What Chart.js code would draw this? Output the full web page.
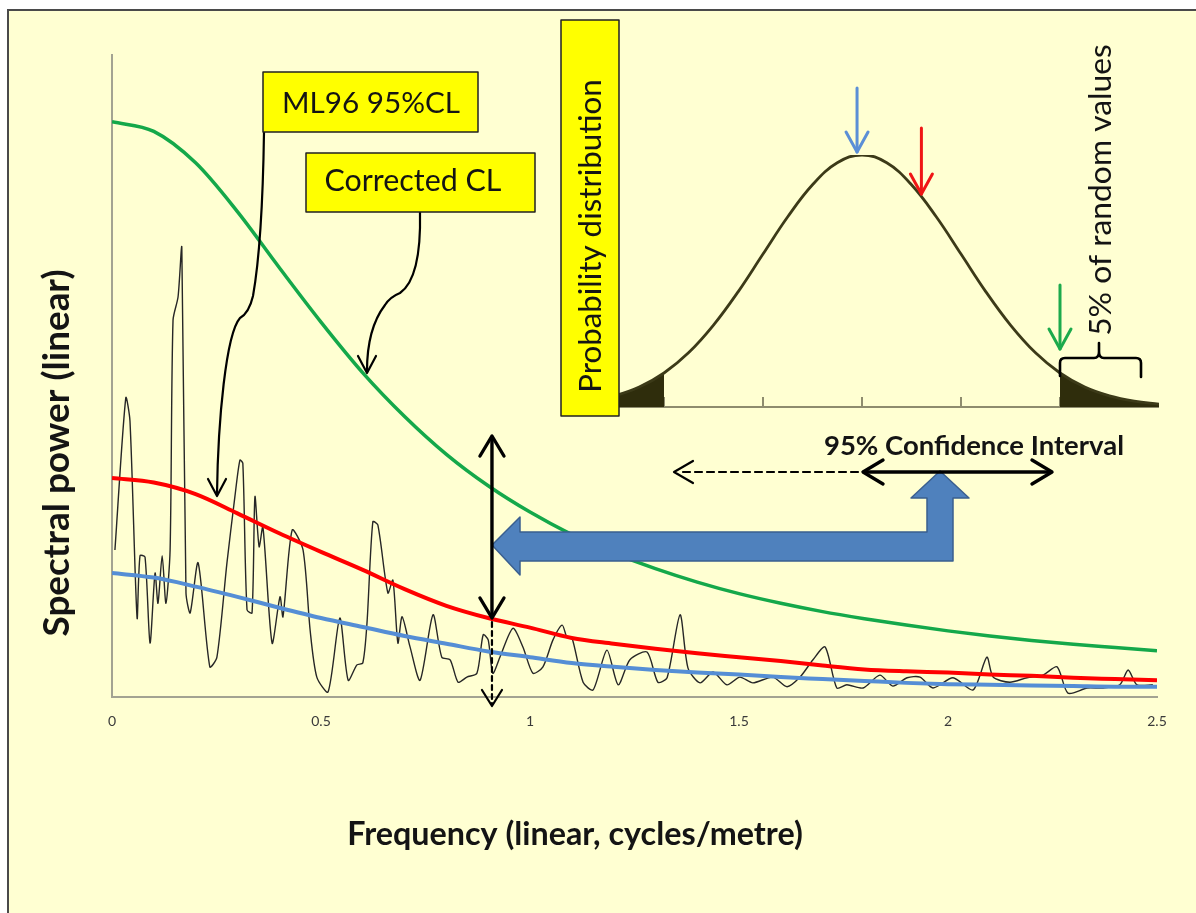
<!DOCTYPE html>
<html>
<head>
<meta charset="utf-8">
<script src="https://cdn.jsdelivr.net/npm/chart.js@4.4.1/dist/chart.umd.min.js"></script>
<style>
html, body { margin: 0; padding: 0; background: #fff; overflow: hidden; }
#frame { position: absolute; left: 7px; top: 9px; width: 1300px; height: 1000px; border: 2px solid #4a4a4a; background: #FFFFD2; }
#main { position: absolute; left: 0; top: 0; }
#inset { position: absolute; left: 545px; top: 10px; }
</style>
</head>
<body>
<div id="frame"></div>
<canvas id="main" width="1196" height="913"></canvas>
<canvas id="inset" width="640" height="430"></canvas>
<script>
// ---- data ----
// noisy spectrum (frequency, power)
const specFreq = [0.007, 0.033, 0.043, 0.060, 0.067, 0.079, 0.091, 0.103, 0.110, 0.120, 0.129, 0.139, 0.146, 0.158, 0.167,
  0.177, 0.187, 0.206, 0.234, 0.251, 0.275, 0.294, 0.306, 0.313, 0.323, 0.335, 0.342, 0.352, 0.361, 0.383, 0.402, 0.409,
  0.431, 0.457, 0.474, 0.490, 0.517, 0.545, 0.565, 0.586, 0.600, 0.610, 0.624, 0.636, 0.660, 0.672, 0.684, 0.694, 0.713,
  0.737, 0.768, 0.789, 0.809, 0.828, 0.849, 0.873, 0.888, 0.900, 0.911, 0.928, 0.959, 0.983, 1.007, 1.031, 1.055, 1.077,
  1.089, 1.100, 1.127, 1.151, 1.184, 1.211, 1.239, 1.280, 1.306, 1.328, 1.359, 1.378, 1.407, 1.438, 1.471, 1.502, 1.533,
  1.581, 1.615, 1.646, 1.677, 1.706, 1.734, 1.758, 1.797, 1.837, 1.868, 1.902, 1.933, 1.964, 2.012, 2.060, 2.093, 2.108,
  2.148, 2.189, 2.227, 2.261, 2.287, 2.333, 2.371, 2.411, 2.431, 2.452, 2.490];
const specPower = [22.9, 46.6, 43.0, 12.3, 22.0, 21.8, 8.4, 19.3, 14.6, 22.0, 14.6, 22.9, 58.7, 62.3, 70.0,
  16.2, 13.1, 20.9, 4.7, 6.2, 20.9, 31.2, 36.9, 36.4, 13.6, 13.1, 31.2, 23.4, 26.5, 8.4, 15.6, 12.5,
  26.0, 22.9, 10.4, 3.1, 0.8, 12.3, 2.6, 5.0, 5.3, 11.5, 27.3, 26.8, 16.2, 18.2, 8.4, 12.5, 7.8,
  2.6, 12.8, 6.2, 5.8, 2.3, 3.1, 3.7, 9.7, 8.9, 3.7, 6.2, 10.7, 7.8, 3.7, 4.7, 8.9, 11.2,
  9.2, 9.3, 2.3, 1.1, 7.3, 1.9, 5.8, 7.0, 2.3, 3.0, 12.8, 4.5, 2.2, 3.9, 1.9, 3.1, 2.2,
  3.1, 1.6, 3.1, 5.8, 7.8, 1.4, 1.9, 1.4, 3.4, 1.7, 3.0, 3.1, 1.4, 3.0, 1.1, 6.2, 3.1,
  2.3, 3.0, 3.4, 4.7, 0.6, 1.4, 1.4, 1.9, 4.2, 1.9, 1.9];

// smooth confidence curves
const clFreq = [0, 0.1, 0.2, 0.3, 0.4, 0.5, 0.6, 0.7, 0.8, 0.9, 1.0, 1.1, 1.2, 1.3, 1.4, 1.5, 1.6, 1.7, 1.8, 1.9, 2.0, 2.1, 2.2, 2.3, 2.4, 2.5];
const meanPower = [19.3, 18.6, 17.2, 15.6, 13.9, 12.3, 10.9, 9.5, 8.3, 7.1, 6.2, 5.3, 4.7, 4.2, 3.8, 3.5, 3.1, 2.8, 2.5, 2.2, 2.0, 1.9, 1.8, 1.7, 1.6, 1.6];
const ml96Power = [34.1, 33.4, 31.6, 28.6, 25.5, 22.6, 19.8, 16.8, 14.2, 12.3, 10.8, 9.2, 8.3, 7.5, 6.8, 6.2, 5.6, 4.9, 4.3, 4.0, 3.8, 3.5, 3.3, 3.0, 2.8, 2.6];
const correctedPower = [89.6, 88.1, 83.2, 75.6, 66.9, 58.4, 50.5, 43.7, 37.8, 32.9, 28.8, 25.3, 22.4, 20.0, 17.9, 16.1, 14.6, 13.3, 12.2, 11.2, 10.3, 9.5, 8.8, 8.2, 7.7, 7.2];

const xTickLabels = ['0', '0.5', '1', '1.5', '2', '2.5'];

// inset probability distribution (in sigma units)
const bellSigma = [-3, -2.75, -2.5, -2.25, -2, -1.75, -1.5, -1.25, -1, -0.75, -0.5, -0.25, 0, 0.25, 0.5, 0.75, 1, 1.25, 1.5, 1.75, 2, 2.25, 2.5, 2.75, 3];
const bellDensity = [1.1, 2.3, 4.4, 7.9, 13.5, 21.6, 32.5, 45.8, 60.7, 75.5, 88.2, 96.9, 100, 96.9, 88.2, 75.5, 60.7, 45.8, 32.5, 21.6, 13.5, 7.9, 4.4, 2.3, 1.1];
const bellTicks = [-2, -1, 0, 1, 2];

const FONT = 'Lato, "Open Sans", sans-serif';

function pts(xs, ys) {
    return xs.map((x, i) => ({ x: x, y: ys[i] }));
}

// font size chosen so text fills a given width
function fitFont(ctx, text, weight, width) {
    ctx.font = weight + ' 100px ' + FONT;
    const w = ctx.measureText(text).width;
    ctx.font = weight + ' ' + (100 * width / w).toFixed(1) + 'px ' + FONT;
}

function chevron(ctx, x, y, ang, len, half) {
    const bx = x - len * Math.cos(ang), by = y - len * Math.sin(ang);
    const px = -Math.sin(ang) * half, py = Math.cos(ang) * half;
    ctx.beginPath();
    ctx.moveTo(bx + px, by + py);
    ctx.lineTo(x, y);
    ctx.lineTo(bx - px, by - py);
    ctx.stroke();
}

function box(ctx, x, y, w, h) {
    ctx.fillStyle = '#FFFF00';
    ctx.fillRect(x, y, w, h);
    ctx.strokeStyle = '#222';
    ctx.lineWidth = 1.5;
    ctx.strokeRect(x, y, w, h);
}

function label(ctx, text, weight, width, cx, cy, rot) {
    ctx.save();
    ctx.translate(cx, cy);
    if (rot) ctx.rotate(rot);
    fitFont(ctx, text, weight, width);
    ctx.fillStyle = '#141414';
    ctx.textAlign = 'center';
    ctx.textBaseline = 'middle';
    ctx.fillText(text, 0, 0);
    ctx.restore();
}

// annotations on the main spectrum chart
const mainNotes = {
    id: 'mainNotes',
    afterDatasetsDraw(chart) {
        const ctx = chart.ctx;
        ctx.save();
        ctx.lineCap = 'round';
        ctx.lineJoin = 'round';

        // big blue block arrow
        const blk = [[492, 545], [520, 517], [520, 532], [927, 532], [927, 498], [911, 498], [940, 471],
            [969, 498], [953, 498], [953, 561], [520, 561], [520, 575]];
        ctx.beginPath();
        blk.forEach((p, i) => i ? ctx.lineTo(p[0], p[1]) : ctx.moveTo(p[0], p[1]));
        ctx.closePath();
        ctx.fillStyle = '#4F81BD';
        ctx.fill();
        ctx.strokeStyle = '#3A5F8F';
        ctx.lineWidth = 1.5;
        ctx.stroke();

        ctx.strokeStyle = '#000';
        // vertical double arrow at the chosen frequency
        const vx = chart.scales.x.getPixelForValue(0.909);
        ctx.lineWidth = 3.4;
        ctx.beginPath(); ctx.moveTo(vx, 437); ctx.lineTo(vx, 617); ctx.stroke();
        chevron(ctx, vx, 436, -Math.PI / 2, 20, 12);
        chevron(ctx, vx, 618, Math.PI / 2, 20, 12);
        ctx.lineWidth = 2.2;
        ctx.setLineDash([5, 4]);
        ctx.beginPath(); ctx.moveTo(vx, 622); ctx.lineTo(vx, 704); ctx.stroke();
        ctx.setLineDash([]);
        chevron(ctx, vx, 706, Math.PI / 2, 16, 10);

        // confidence interval arrows
        ctx.lineWidth = 2.2;
        ctx.setLineDash([7, 5]);
        ctx.beginPath(); ctx.moveTo(858, 472); ctx.lineTo(678, 472); ctx.stroke();
        ctx.setLineDash([]);
        chevron(ctx, 674, 472, Math.PI, 19, 11);
        ctx.lineWidth = 3.4;
        ctx.beginPath(); ctx.moveTo(864, 472); ctx.lineTo(1050, 472); ctx.stroke();
        chevron(ctx, 863, 472, Math.PI, 20, 12);
        chevron(ctx, 1052, 472, 0, 20, 12);

        // connector to red curve
        ctx.lineWidth = 2.2;
        ctx.beginPath();
        ctx.moveTo(264, 132);
        ctx.bezierCurveTo(263, 200, 259, 262, 253, 296);
        ctx.quadraticCurveTo(249, 313, 240, 318);
        ctx.bezierCurveTo(226, 334, 218, 420, 217, 494);
        ctx.stroke();
        chevron(ctx, 217, 496, Math.PI / 2, 17, 9);

        // connector to green curve
        ctx.beginPath();
        ctx.moveTo(420, 212);
        ctx.bezierCurveTo(421, 258, 413, 284, 400, 293);
        ctx.quadraticCurveTo(390, 297, 385, 305);
        ctx.bezierCurveTo(372, 322, 367, 345, 367, 371);
        ctx.stroke();
        chevron(ctx, 367, 373, Math.PI / 2, 17, 9);

        // callout boxes
        box(ctx, 263, 72, 215, 60);
        label(ctx, 'ML96 95%CL', 'normal', 178, 371, 103);
        box(ctx, 306, 153, 229, 59);
        label(ctx, 'Corrected CL', 'normal', 177, 413, 181);

        label(ctx, '95% Confidence Interval', 'bold', 300, 974, 446);

        // axis titles
        label(ctx, 'Spectral power (linear)', 'bold', 367, 57, 453, -Math.PI / 2);
        label(ctx, 'Frequency (linear, cycles/metre)', 'bold', 456, 575, 835);
        ctx.restore();
    }
};

new Chart(document.getElementById('main'), {
    type: 'line',
    data: {
        datasets: [
            { label: 'Mean', data: pts(clFreq, meanPower), borderColor: '#558ED5', borderWidth: 4, pointRadius: 0, cubicInterpolationMode: 'monotone' },
            { label: 'ML96 95%CL', data: pts(clFreq, ml96Power), borderColor: '#FF0000', borderWidth: 4, pointRadius: 0, cubicInterpolationMode: 'monotone' },
            { label: 'Corrected CL', data: pts(clFreq, correctedPower), borderColor: '#14A84A', borderWidth: 3.5, pointRadius: 0, cubicInterpolationMode: 'monotone' },
            { label: 'Spectrum', data: pts(specFreq, specPower), borderColor: '#262626', borderWidth: 1.4, pointRadius: 0, tension: 0.25 }
        ]
    },
    options: {
        responsive: false,
        animation: false,
        layout: { padding: { left: 112, right: 39, top: 55, bottom: 186 } },
        plugins: { legend: { display: false }, tooltip: { enabled: false } },
        scales: {
            x: {
                type: 'linear', min: 0, max: 2.5,
                afterFit: s => { s.height = 30; },
                grid: { display: false, drawTicks: false },
                border: { display: true, color: '#A3A392', width: 2 },
                ticks: {
                    stepSize: 0.5, padding: 16, color: '#3a3a3a', maxRotation: 0,
                    font: { family: FONT, size: 14 },
                    callback: (v, i) => xTickLabels[i] ?? ''
                }
            },
            y: {
                min: 0, max: 100,
                afterFit: s => { s.width = 0; },
                grid: { display: false, drawTicks: false },
                border: { display: true, color: '#A3A392', width: 2 },
                ticks: { display: false }
            }
        }
    },
    plugins: [mainNotes]
});

// inset: baseline, arrows, brace, labels
const insetNotes = {
    id: 'insetNotes',
    beforeDatasetsDraw(chart) {
        const ctx = chart.ctx, x = chart.scales.x, y = chart.scales.y;
        const y0 = y.getPixelForValue(0);
        ctx.save();
        ctx.strokeStyle = '#8E8C6E';
        ctx.lineWidth = 2;
        ctx.beginPath(); ctx.moveTo(x.getPixelForValue(-3), y0); ctx.lineTo(x.getPixelForValue(3), y0); ctx.stroke();
        bellTicks.forEach(t => {
            const px = x.getPixelForValue(t);
            ctx.beginPath(); ctx.moveTo(px, y0); ctx.lineTo(px, y0 - 10); ctx.stroke();
        });
        ctx.restore();
    },
    afterDraw(chart) {
        const ctx = chart.ctx, x = chart.scales.x;
        ctx.save();
        ctx.translate(-545, -10); // page coordinates
        ctx.lineCap = 'round';
        ctx.lineJoin = 'round';

        const arrow = (col, px, y1, y2) => {
            ctx.strokeStyle = col;
            ctx.lineWidth = 3;
            ctx.beginPath(); ctx.moveTo(px, y1); ctx.lineTo(px, y2); ctx.stroke();
            chevron(ctx, px, y2, Math.PI / 2, 20, 11);
        };
        arrow('#5B8FD6', x.getPixelForValue(-0.05) + 545, 88, 152);
        arrow('#F01515', x.getPixelForValue(0.6) + 545, 128, 194);
        arrow('#1CAA4C', x.getPixelForValue(2) + 545, 285, 349);

        // brace over the upper tail
        const bl = x.getPixelForValue(2) + 545, br = 1141, bm = 1099;
        ctx.strokeStyle = '#000';
        ctx.lineWidth = 2.6;
        ctx.beginPath();
        ctx.moveTo(bl, 376);
        ctx.lineTo(bl, 363);
        ctx.quadraticCurveTo(bl, 358, bl + 5, 358);
        ctx.lineTo(bm - 5, 358);
        ctx.quadraticCurveTo(bm, 358, bm, 352);
        ctx.lineTo(bm, 343);
        ctx.moveTo(bm, 352);
        ctx.quadraticCurveTo(bm, 358, bm + 5, 358);
        ctx.lineTo(br - 5, 358);
        ctx.quadraticCurveTo(br, 358, br, 363);
        ctx.lineTo(br, 377);
        ctx.stroke();

        label(ctx, '5% of random values', 'normal', 292, 1101, 190, -Math.PI / 2);

        box(ctx, 561, 20, 58, 396);
        label(ctx, 'Probability distribution', 'normal', 314, 591, 236, -Math.PI / 2);
        ctx.restore();
    }
};

const lowTail = bellSigma.map((s, i) => ({ x: s, y: bellDensity[i] })).filter(p => p.x <= -2);
const highTail = bellSigma.map((s, i) => ({ x: s, y: bellDensity[i] })).filter(p => p.x >= 2);

new Chart(document.getElementById('inset'), {
    type: 'line',
    data: {
        datasets: [
            { data: pts(bellSigma, bellDensity), borderColor: '#3C3A18', borderWidth: 2.8, pointRadius: 0, tension: 0.4, fill: false },
            { data: lowTail, borderWidth: 0, pointRadius: 0, tension: 0.4, fill: 'origin', backgroundColor: '#2F2D0C' },
            { data: highTail, borderWidth: 0, pointRadius: 0, tension: 0.4, fill: 'origin', backgroundColor: '#2F2D0C' }
        ]
    },
    options: {
        responsive: false,
        animation: false,
        layout: { padding: { left: 20, right: 26, top: 145, bottom: 33 } },
        plugins: { legend: { display: false }, tooltip: { enabled: false } },
        scales: {
            x: { type: 'linear', min: -3, max: 3, display: false },
            y: { min: 0, max: 100, display: false }
        }
    },
    plugins: [insetNotes]
});
</script>
</body>
</html>
